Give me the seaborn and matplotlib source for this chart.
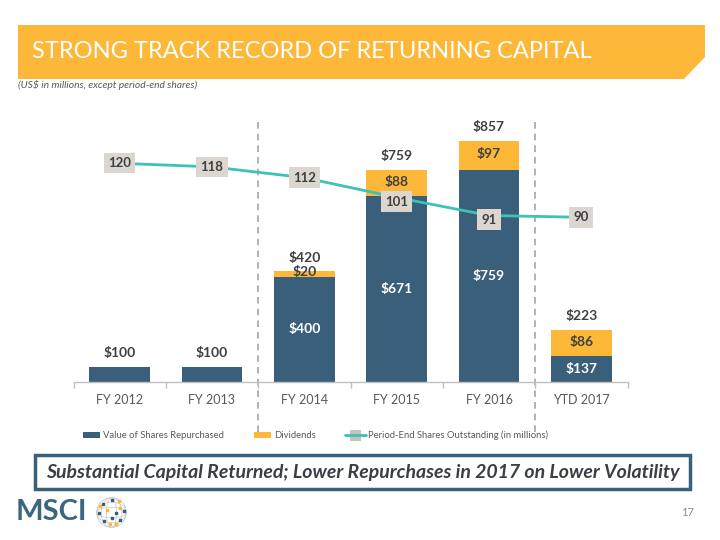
import matplotlib
matplotlib.use("Agg")
import matplotlib.pyplot as plt
import seaborn as sns
import numpy as np
import pandas as pd
from matplotlib.patches import Polygon, Rectangle, Circle, Ellipse
from matplotlib.lines import Line2D

# ---------------- data ----------------
categories = ["FY 2012", "FY 2013", "FY 2014", "FY 2015", "FY 2016", "YTD 2017"]
repurchased = [100, 100, 400, 671, 759, 137]
dividends = [0, 0, 20, 88, 97, 86]
total_labels = ["$100", "$100", "$420", "$759", "$857", "$223"]
shares = [120, 118, 112, 101, 91, 90]

NAVY = "#3A5F7B"
ORANGE = "#FDB83A"
TEAL = "#3EC1B6"
GRAYBOX = "#DBD7D0"
DARK = "#404040"
TXT = "#595959"

sns.set_theme(style="white")
plt.rcParams['font.family'] = ['Lato', 'DejaVu Sans']

W, H = 720, 540
fig = plt.figure(figsize=(7.2, 5.4), dpi=100)


def fx(x):
    return x / W


def fy(y):
    return 1 - y / H


# ---------------- title bar ----------------
poly = Polygon([(fx(18), fy(25)), (fx(705), fy(25)), (fx(705), fy(57)),
                (fx(684), fy(79)), (fx(18), fy(79))], closed=True,
               transform=fig.transFigure, facecolor=ORANGE, edgecolor='none')
fig.patches.append(poly)
fig.text(fx(32), fy(51), "STRONG TRACK RECORD OF RETURNING CAPITAL",
         color='white', fontsize=17, va='center', ha='left')
fig.text(fx(18), fy(85), "(US$ in millions, except period-end shares)",
         fontsize=7.4, style='italic', color=TXT, va='center', ha='left')

# ---------------- main axes ----------------
ax_left, ax_right, ax_bot, ax_top = 73.5, 627.5, 381.5, 121.5
ax = fig.add_axes([fx(ax_left), fy(ax_bot), (ax_right - ax_left) / W,
                   (ax_bot - ax_top) / H])

df = pd.DataFrame({"cat": categories, "rep": repurchased, "div": dividends})
df["tot"] = df["rep"] + df["div"]

sns.barplot(data=df, x="cat", y="tot", color=ORANGE, width=0.66, ax=ax,
            saturation=1, edgecolor='none')
sns.barplot(data=df, x="cat", y="rep", color=NAVY, width=0.66, ax=ax,
            saturation=1, edgecolor='none')

ybase = 52
upp = 3.345  # units per pixel
ax.set_ylim(ybase, ybase + (ax_bot - ax_top) * upp)
ax.set_xlim(-0.5, len(categories) - 0.5)

for s in ["top", "left", "right"]:
    ax.spines[s].set_visible(False)
ax.spines["bottom"].set_color("#BFBFBF")
ax.spines["bottom"].set_linewidth(1)
ax.set_yticks([])
ax.set_xlabel("")
ax.set_ylabel("")
ax.set_xticks(range(len(categories)))
ax.set_xticklabels(categories)
ax.set_xticks(np.arange(-0.5, len(categories), 1.0), minor=True)
ax.tick_params(axis='x', which='major', length=0, pad=9, labelsize=9,
               labelcolor=TXT)
ax.tick_params(axis='x', which='minor', length=4, width=1, color="#BFBFBF",
               direction='out', bottom=True)

lab_kw = dict(ha='center', va='center', fontsize=10, fontweight='bold')
for i in range(len(categories)):
    rep = repurchased[i]
    dv = dividends[i]
    tot = rep + dv
    ax.annotate(total_labels[i], (i, tot), xytext=(0, 10),
                textcoords='offset points', color=DARK, **lab_kw)
    if i >= 2:
        ax.text(i, (max(ybase, 0) + rep) / 2, f"${rep}", color='white',
                **lab_kw)
        if dv < 40:
            ax.annotate(f"${dv}", (i, tot), xytext=(0, -0.5),
                        textcoords='offset points', color=DARK, **lab_kw)
        else:
            ax.annotate(f"${dv}", (i, rep + dv / 2), xytext=(0, 1),
                        textcoords='offset points', color=DARK, **lab_kw)

# dashed separators
for xv in [1.5, 4.5]:
    ax.axvline(xv, ymin=-0.195, ymax=1.0, clip_on=False, color="#A6A6A6",
               linestyle=(0, (4, 3)), linewidth=1.2, zorder=0)

# ---------------- shares line ----------------
ax2 = ax.twinx()
pos = np.arange(len(categories))
sns.lineplot(x=pos, y=shares, ax=ax2, color=TEAL, linewidth=2, zorder=3)
ax2.set_ylim(-1.2, 143.2)
ax2.set_xlim(-0.5, len(categories) - 0.5)
ax2.axis('off')
for i, v in enumerate(shares):
    dy = -3 if v in (101, 91) else 0
    ax2.annotate(f"{v}", (i, v), xytext=(0, dy), textcoords='offset points',
                 ha='center', va='center', fontsize=9.5,
                 fontweight='bold', color=DARK, zorder=4,
                 bbox=dict(boxstyle='square,pad=0.32', facecolor=GRAYBOX,
                           edgecolor='none'))

# ---------------- legend ----------------
ly = 435
fig.patches.append(Rectangle((fx(83), fy(ly + 3)), 17 / W, 6 / H,
                             transform=fig.transFigure, facecolor=NAVY,
                             edgecolor='none'))
fig.text(fx(103), fy(ly), "Value of Shares Repurchased", fontsize=6.8,
         color=TXT, va='center', ha='left')
fig.patches.append(Rectangle((fx(254), fy(ly + 3)), 17 / W, 6 / H,
                             transform=fig.transFigure, facecolor=ORANGE,
                             edgecolor='none'))
fig.text(fx(274), fy(ly), "Dividends", fontsize=6.8, color=TXT,
         va='center', ha='left')
fig.lines.append(Line2D([fx(345), fx(366)], [fy(ly), fy(ly)],
                        transform=fig.transFigure, color=TEAL, linewidth=2))
fig.patches.append(Rectangle((fx(350), fy(ly + 5.5)), 11 / W, 11 / H,
                             transform=fig.transFigure, facecolor="#C9C3B8",
                             edgecolor='none'))
fig.text(fx(368), fy(ly), "Period-End Shares Outstanding (in millions)",
         fontsize=6.8, color=TXT, va='center', ha='left')

# ---------------- bottom banner ----------------
fig.patches.append(Rectangle((fx(35), fy(489)), (690 - 35) / W, 34 / H,
                             transform=fig.transFigure, facecolor='white',
                             edgecolor=NAVY, linewidth=2.5))
fig.text(fx(362.5), fy(472.5),
         "Substantial Capital Returned; Lower Repurchases in 2017 on Lower Volatility",
         fontsize=14, fontweight='bold', style='italic', color="#3A3F45",
         ha='center', va='center')

# ---------------- logo ----------------
fig.text(fx(16), fy(512), "MSCI", fontsize=21, fontweight='bold',
         color="#3B6680", ha='left', va='center')
gax = fig.add_axes([fx(96), fy(528), 31 / W, 31 / H])
gax.set_xlim(-1.05, 1.05)
gax.set_ylim(-1.05, 1.05)
gax.set_aspect('equal')
gax.axis('off')
gax.add_patch(Circle((0, 0), 1, fill=False, edgecolor="#C8C8C8", lw=0.6))
for w in [0.35, 0.7]:
    gax.add_patch(Ellipse((0, 0), 2 * w, 2, fill=False, edgecolor="#C8C8C8", lw=0.5))
    gax.add_patch(Ellipse((0, 0), 2, 2 * w, fill=False, edgecolor="#C8C8C8", lw=0.5))
dots_navy = [(-0.6, 0.6), (0.0, 0.85), (-0.85, 0.0), (0.3, 0.0), (0.0, -0.4),
             (-0.5, -0.6), (0.6, -0.5), (0.85, 0.1)]
dots_or = [(0.5, 0.75), (-0.3, 0.2), (0.55, 0.3), (-0.1, -0.8), (0.3, -0.75),
           (-0.75, 0.45)]
gax.scatter([d[0] for d in dots_navy], [d[1] for d in dots_navy], s=3,
            color=NAVY, marker='s')
gax.scatter([d[0] for d in dots_or], [d[1] for d in dots_or], s=3,
            color=ORANGE, marker='s')

fig.text(fx(688), fy(513), "17", fontsize=8, color="#8C8C8C",
         ha='center', va='center')

fig.savefig("out.png", dpi=100)
